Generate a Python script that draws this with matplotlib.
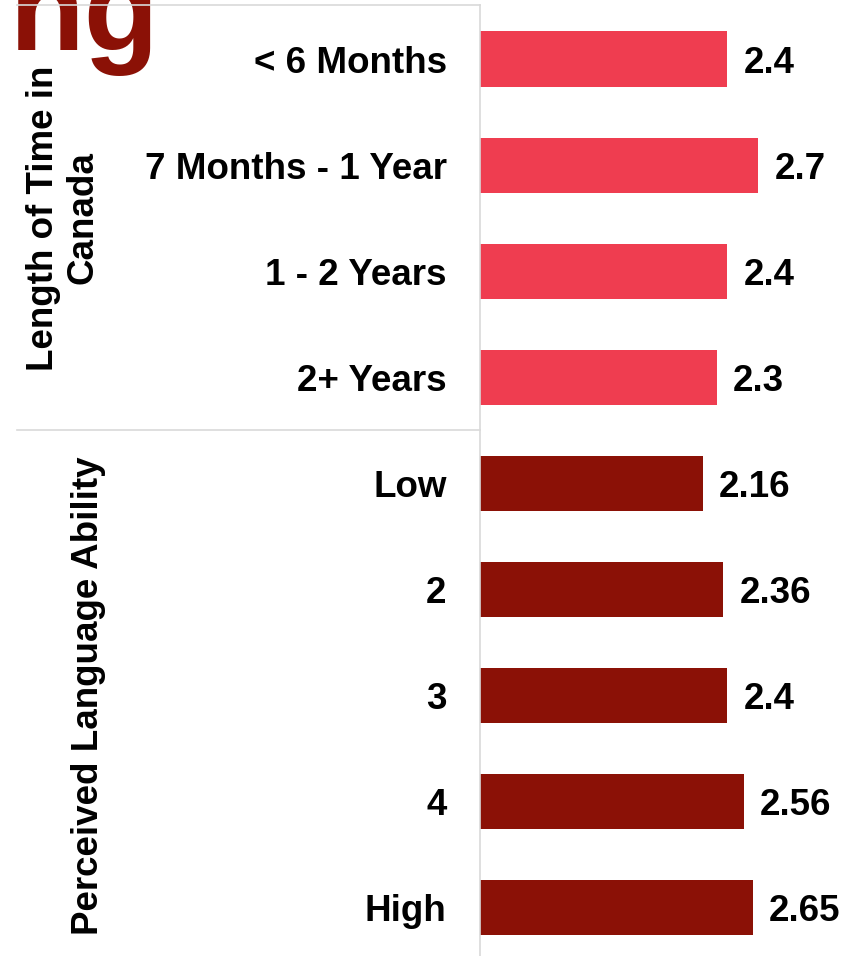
import matplotlib
matplotlib.use("Agg")
import matplotlib.pyplot as plt
from matplotlib.lines import Line2D

# Data
categories = ["< 6 Months", "7 Months - 1 Year", "1 - 2 Years", "2+ Years",
              "Low", "2", "3", "4", "High"]
values = [2.4, 2.7, 2.4, 2.3, 2.16, 2.36, 2.4, 2.56, 2.65]
groups = ["Length of Time in\nCanada", "Perceived Language Ability"]
group_sizes = [4, 5]
group_colors = ["#EF3D50", "#8B1106"]

plt.rcParams["font.family"] = ["Liberation Sans", "DejaVu Sans"]
plt.rcParams["font.weight"] = "bold"

W, H = 844, 956
fig = plt.figure(figsize=(W / 100, H / 100), dpi=100)

# bar area sits right of the label column
ax = fig.add_axes([480 / W, 0, 1 - 480 / W, (H - 5) / H])

colors = []
for c, n in zip(group_colors, group_sizes):
    colors += [c] * n

pos = list(range(len(categories)))
ax.barh(pos, values, height=0.52, color=colors, zorder=2)
for p, v in zip(pos, values):
    ax.text(v + 0.155, p, f"{v}", va="center_baseline", ha="left",
            fontsize=26.5, fontweight="bold", color="black")

ax.set_xlim(0, 3.53)
ax.set_ylim(8.454, -0.509)
ax.set_xticks([])
ax.set_yticks(pos)
ax.set_yticklabels(categories, fontsize=26.5, fontweight="bold",
                   va="center_baseline")
ax.tick_params(axis="y", length=0, pad=24)
for s in ["top", "right", "bottom"]:
    ax.spines[s].set_visible(False)
ax.spines["left"].set_color("#D9D9D9")
ax.spines["left"].set_linewidth(1.2)

# group frame lines
def hline(ypix):
    fig.add_artist(Line2D([17 / W, 480 / W], [1 - ypix / H, 1 - ypix / H],
                          color="#D9D9D9", lw=1.2, zorder=3))

hline(5)
hline(430)

# group labels
fig.text(63 / W, 1 - 218 / H, groups[0], rotation=90, ha="center", va="center",
         multialignment="center", fontsize=26.5, fontweight="bold",
         linespacing=1.15)
fig.text(89 / W, 1 - 696 / H, groups[1], rotation=90, ha="center", va="center",
         fontsize=26.5, fontweight="bold")

# tail of the slide heading
fig.text(10 / W, 1 - 50 / H, "ng", ha="left", va="baseline", fontsize=88,
         fontweight="bold", color="#8B1106", zorder=1)

fig.savefig("out.png", dpi=100)
